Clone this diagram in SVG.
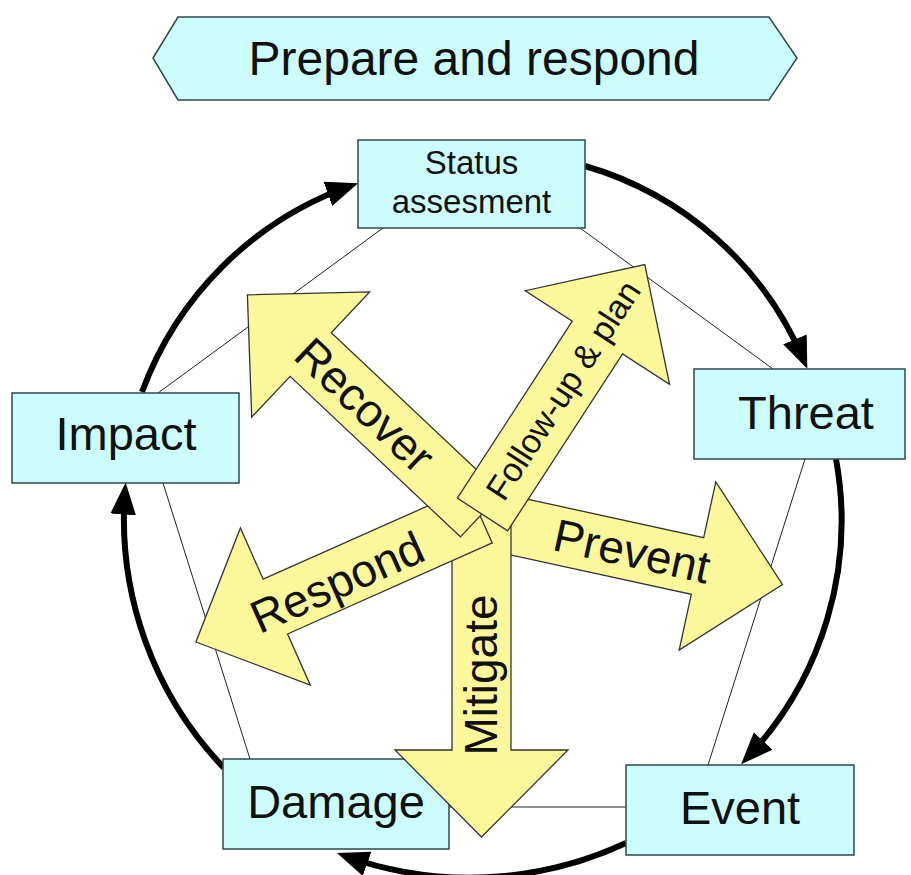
<svg xmlns="http://www.w3.org/2000/svg" width="911" height="875" viewBox="0 0 911 875">
<style>
.box{fill:#ccfcfc;stroke:#2d4a4a;stroke-width:1.5}
.lbl{font-family:"Liberation Sans",Arial,sans-serif;fill:#111;text-anchor:middle}
.thin{stroke:#222;stroke-width:1;fill:none}
.cyc{stroke:#000;stroke-width:6;fill:none;marker-end:url(#ah)}
.ya{fill:#fbf89b;stroke:#333;stroke-width:1.3;stroke-linejoin:miter}
</style>
<defs>
<marker id="ah" markerUnits="userSpaceOnUse" markerWidth="32" markerHeight="26" refX="22" refY="12" orient="auto" viewBox="0 0 30 24"><path d="M0,0 L30,12 L0,24 z" fill="#000"/></marker>
</defs>
<rect width="911" height="875" fill="#fff"/>
<g id="banner">
<polygon class="box" points="153,58 178,17 769,17 797,58 769,100 178,100"/>
<text class="lbl" x="474" y="75" font-size="48">Prepare and respond</text>
</g>
<g id="connectors">
<line class="thin" x1="383" y1="228" x2="158" y2="393"/>
<line class="thin" x1="580" y1="228" x2="773" y2="369"/>
<line class="thin" x1="805" y1="459" x2="708" y2="765"/>
<line class="thin" x1="626" y1="807" x2="449" y2="807"/>
<line class="thin" x1="250" y1="759" x2="163" y2="483"/>
<path class="cyc" d="M585,166 A340,340 0 0 1 804,361"/>
<path class="cyc" d="M836,459 A345,345 0 0 1 747,758"/>
<path class="cyc" d="M626,843 A370,370 0 0 1 345,856"/>
<path class="cyc" d="M224,768 A360,360 0 0 1 125,491"/>
<path class="cyc" d="M142,392 A345,345 0 0 1 350,186"/>
</g>
<g id="status"><rect class="box" x="358" y="140" width="227" height="88"/>
<text class="lbl" x="471.5" y="174" font-size="33">Status</text>
<text class="lbl" x="471.5" y="213" font-size="33">assesment</text></g>
<g id="threat"><rect class="box" x="694" y="369" width="211" height="90"/>
<text class="lbl" x="806" y="429" font-size="47">Threat</text></g>
<g id="impact"><rect class="box" x="12" y="393" width="227" height="90"/>
<text class="lbl" x="126" y="450" font-size="47">Impact</text></g>
<g id="damage"><rect class="box" x="223" y="759" width="226" height="90"/>
<text class="lbl" x="336" y="818" font-size="47">Damage</text></g>
<g id="event"><rect class="box" x="626" y="765" width="228" height="90"/>
<text class="lbl" x="740" y="824" font-size="47">Event</text></g>
<g id="prevent">
<polygon class="ya" transform="translate(505,524) rotate(12.3)" points="0,-29 197,-29 197,-86 284,0 197,86 197,29 0,29"/>
<text class="lbl" transform="translate(632,551) rotate(12.3)" dy="0.35em" font-size="46">Prevent</text>
</g>
<g id="mitigate">
<polygon class="ya" transform="translate(481.5,505) rotate(90)" points="0,-29.5 245,-29.5 245,-86.5 332,0 245,86.5 245,29.5 0,29.5"/>
<text class="lbl" transform="translate(481,675) rotate(-90)" dy="0.35em" font-size="46">Mitigate</text>
</g>
<g id="respond">
<polygon class="ya" transform="translate(480,515.5) rotate(156)" points="0,-30 224,-30 224,-86 311,0 224,86 224,30 0,30"/>
<text class="lbl" transform="translate(337,582) rotate(-24)" dy="0.35em" font-size="46">Respond</text>
</g>
<g id="recover">
<polygon class="ya" transform="translate(481,515) rotate(223.3)" points="0,-30 234,-30 234,-86 321,0 234,86 234,30 0,30"/>
<text class="lbl" transform="translate(365,405) rotate(43.5)" dy="0.35em" font-size="46">Recover</text>
</g>
<g id="followup">
<polygon class="ya" transform="translate(482.5,514.5) rotate(-57)" points="0,-30 211,-30 211,-86 298,0 211,86 211,30 0,30"/>
<text class="lbl" transform="translate(563,390) rotate(-57)" dy="0.35em" font-size="34">Follow-up &amp; plan</text>
</g>
</svg>
